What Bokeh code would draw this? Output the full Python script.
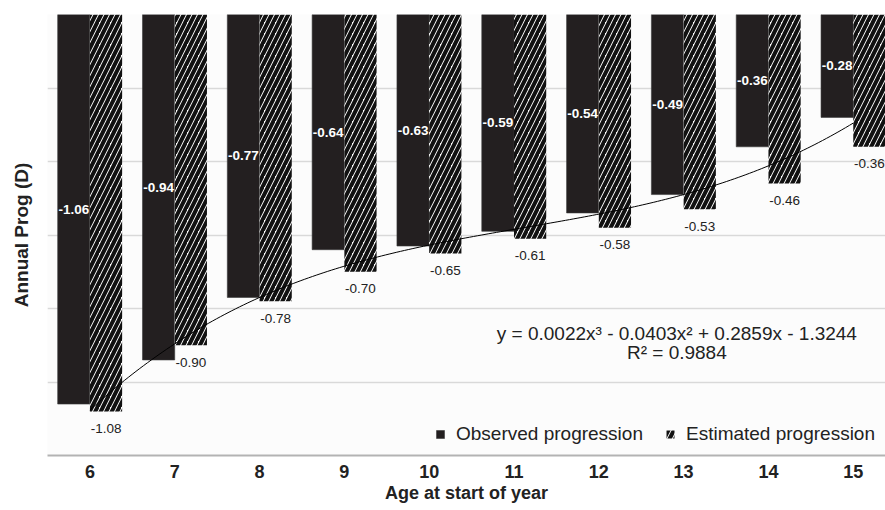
import numpy as np
from bokeh.plotting import figure
from bokeh.models import ColumnDataSource, FixedTicker, Legend, LegendItem, Label, Range1d
from bokeh.core.properties import value
from bokeh.embed import file_html
from bokeh.resources import INLINE

# ---- data ----
ages = [6, 7, 8, 9, 10, 11, 12, 13, 14, 15]
observed = [-1.06, -0.94, -0.77, -0.64, -0.63, -0.59, -0.54, -0.49, -0.36, -0.28]
estimated = [-1.08, -0.90, -0.78, -0.70, -0.65, -0.61, -0.58, -0.53, -0.46, -0.36]
trend_coeffs = [0.0022, -0.0403, 0.2859, -1.3244]   # cubic trendline of observed series (x = 1..10)
r_squared = 0.9884
y_ticks = [-1.2, -1.0, -0.8, -0.6, -0.4, -0.2, 0.0]
legend_labels = ["Observed progression", "Estimated progression"]

FONT = "Liberation Sans"
BAR_W = 0.38
OFF = 0.19

src = ColumnDataSource(dict(
    age=ages,
    x_obs=[a - OFF for a in ages],
    x_est=[a + OFF for a in ages],
    obs=observed,
    est=estimated,
    obs_mid=[v / 2 for v in observed],
    obs_lbl=[f"{v:.2f}" for v in observed],
    est_lbl=[f"{v:.2f}" for v in estimated],
))

p = figure(width=885, height=508, output_backend="svg", toolbar_location=None,
           x_range=Range1d(5.5, 15.38), y_range=Range1d(-1.2, 0.0),
           min_border_left=47, min_border_right=0, min_border_top=14, min_border_bottom=53)
p.background_fill_color = "#fcfcfc"
p.border_fill_color = "white"
p.outline_line_color = None

# bars
r_obs = p.vbar(x="x_obs", width=BAR_W, top=0, bottom="obs", source=src,
               fill_color="#231f20", line_color="#3a3a3a", line_width=0.6)
r_est = p.vbar(x="x_est", width=BAR_W, top=0, bottom="est", source=src,
               fill_color="white", line_color=None,
               hatch_pattern="/", hatch_color="#111111", hatch_scale=11, hatch_weight=4)

# trendline (from the chart's own equation)
xs = np.linspace(ages[0], ages[-1], 200)
ys = np.polyval(trend_coeffs, xs - (ages[0] - 1))
p.line(xs, ys, line_color="black", line_width=1)

# data labels
p.text(x="x_obs", y="obs_mid", text="obs_lbl", source=src, text_color="white",
       text_font=value(FONT), text_font_style="bold", text_font_size="13.5px",
       text_align="center", text_baseline="middle")
p.text(x="x_est", y="est", text="est_lbl", source=src, text_color="#222222",
       text_font=value(FONT), text_font_size="13.5px",
       text_align="center", text_baseline="middle", y_offset=17)

# equation
p.add_layout(Label(x=12.92, y=-0.868, text="y = 0.0022x³ - 0.0403x² + 0.2859x - 1.3244",
                   text_font=FONT, text_font_size="19px", text_color="#222222",
                   text_align="center", text_baseline="middle"))
p.add_layout(Label(x=12.92, y=-0.920, text=f"R² = {r_squared:.4f}",
                   text_font=FONT, text_font_size="19px", text_color="#222222",
                   text_align="center", text_baseline="middle"))

# axes
p.xaxis.ticker = FixedTicker(ticks=ages)
p.xaxis.major_label_text_font = FONT
p.xaxis.major_label_text_font_style = "bold"
p.xaxis.major_label_text_font_size = "18px"
p.xaxis.major_label_text_color = "#222222"
p.xaxis.major_tick_line_color = None
p.xaxis.minor_tick_line_color = None
p.xaxis.axis_line_color = "#b3b3b3"
p.xaxis.axis_line_width = 2
p.xaxis.major_label_standoff = 3
p.xaxis.axis_label = "Age at start of year"
p.xaxis.axis_label_text_font = FONT
p.xaxis.axis_label_text_font_style = "bold"
p.xaxis.axis_label_text_font_size = "18px"
p.xaxis.axis_label_text_color = "#222222"
p.xaxis.axis_label_standoff = 2

p.yaxis.ticker = FixedTicker(ticks=[])
p.yaxis.major_tick_line_color = None
p.yaxis.minor_tick_line_color = None
p.yaxis.axis_line_color = None
p.yaxis.axis_label = "Annual Prog (D)"
p.yaxis.axis_label_text_font = FONT
p.yaxis.axis_label_text_font_style = "bold"
p.yaxis.axis_label_text_font_size = "19px"
p.yaxis.axis_label_text_color = "#222222"
p.yaxis.axis_label_standoff = 16

p.xgrid.grid_line_color = None
p.ygrid.ticker = FixedTicker(ticks=y_ticks)
p.ygrid.grid_line_color = "#d9d9d9"
p.ygrid.grid_line_width = 1.5

legend = Legend(items=[LegendItem(label=legend_labels[0], renderers=[r_obs]),
                       LegendItem(label=legend_labels[1], renderers=[r_est])],
                orientation="horizontal", location="bottom_right",
                glyph_width=10, glyph_height=10, label_standoff=11, spacing=22,
                padding=0, margin=10, background_fill_alpha=0, border_line_color=None,
                label_text_font=FONT, label_text_font_size="19px", label_text_color="#222222")
p.add_layout(legend)

open("out.html", "w").write(file_html(p, INLINE))
